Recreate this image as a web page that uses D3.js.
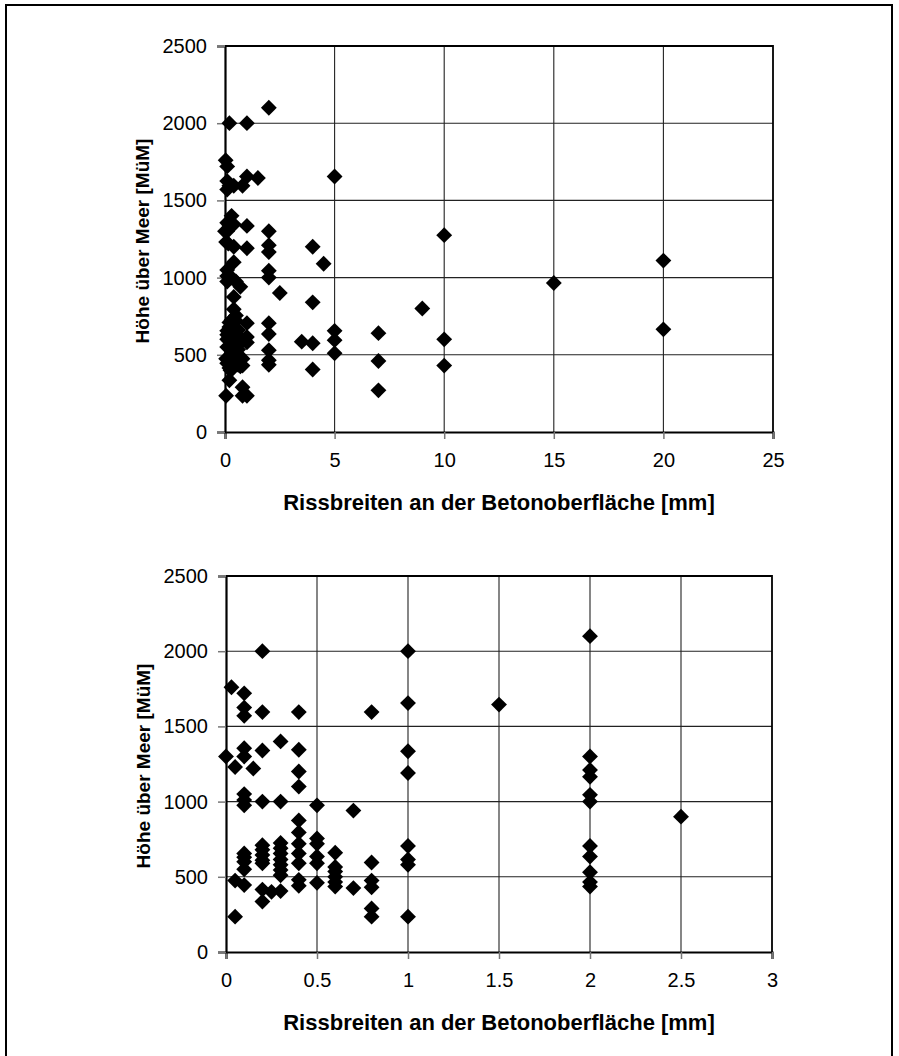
<!DOCTYPE html>
<html>
<head>
<meta charset="utf-8">
<script src="https://cdn.jsdelivr.net/npm/d3@7"></script>
<style>
  html, body { margin: 0; padding: 0; background: #fff; }
  svg { display: block; }
  text { font-family: "Liberation Sans", Arial, sans-serif; fill: #000; }
</style>
</head>
<body>
<svg id="chart" width="899" height="1056"></svg>
<script>
// Crack widths at the concrete surface [mm] and altitude above sea level [m].
const crackWidth = [
  0, 0.03, 0.05, 0.05, 0.05,
  0.1, 0.1, 0.1, 0.1, 0.1, 0.1, 0.1, 0.1, 0.1, 0.1, 0.1, 0.1, 0.1,
  0.15,
  0.2, 0.2, 0.2, 0.2, 0.2, 0.2, 0.2, 0.2, 0.2, 0.2, 0.2,
  0.25,
  0.3, 0.3, 0.3, 0.3, 0.3, 0.3, 0.3, 0.3, 0.3, 0.3,
  0.4, 0.4, 0.4, 0.4, 0.4, 0.4, 0.4, 0.4, 0.4, 0.4, 0.4,
  0.5, 0.5, 0.5, 0.5, 0.5, 0.5,
  0.6, 0.6, 0.6, 0.6, 0.6, 0.6,
  0.7, 0.7,
  0.8, 0.8, 0.8, 0.8, 0.8, 0.8,
  1, 1, 1, 1, 1, 1, 1, 1,
  1.5,
  2, 2, 2, 2, 2, 2, 2, 2, 2, 2, 2,
  2.5,
  3.5, 4, 4, 4, 4, 4.5,
  5, 5, 5, 5,
  7, 7, 7, 9,
  10, 10, 10, 15, 20, 20
];
const altitude = [
  1300, 1760, 1230, 475, 235,
  1720, 1625, 1570, 1355, 1300, 1050, 1010, 975, 655, 630, 600, 550, 445,
  1220,
  2000, 1595, 1340, 1000, 710, 680, 645, 610, 590, 415, 335,
  400,
  1400, 1000, 725, 690, 655, 615, 580, 545, 510, 405,
  1595, 1345, 1200, 1100, 875, 795, 720, 655, 590, 480, 440,
  975, 755, 720, 635, 590, 460,
  660, 565, 535, 500, 465, 435,
  940, 425,
  1595, 595, 475, 430, 290, 235,
  2000, 1655, 1335, 1190, 705, 615, 580, 235,
  1645,
  2100, 1300, 1210, 1165, 1045, 1000, 705, 635, 530, 465, 435,
  900,
  585, 1200, 840, 575, 405, 1090,
  1655, 655, 595, 510,
  640, 460, 270, 800,
  1275, 600, 430, 965, 1110, 665
];

const yTicks = [0, 500, 1000, 1500, 2000, 2500];
const xTicksWide = [0, 5, 10, 15, 20, 25];
const xTicksNarrow = [0, 0.5, 1, 1.5, 2, 2.5, 3];

const xTitle = "Rissbreiten an der Betonoberfläche [mm]";
const yTitle = "Höhe über Meer [MüM]";

const points = crackWidth.map((x, i) => ({ x, y: altitude[i] }));

const svg = d3.select("#chart");

// outer frame
svg.append("path")
  .attr("d", "M6,1070 V5 H892 V1070")
  .attr("fill", "none")
  .attr("stroke", "#000")
  .attr("stroke-width", 2);

function drawPanel(cfg) {
  const x = d3.scaleLinear().domain(cfg.xDomain).range([cfg.left, cfg.right]);
  const y = d3.scaleLinear().domain([0, 2500]).range([cfg.bottom, cfg.top]);
  const g = svg.append("g");

  // grid lines
  g.append("g").selectAll("line.v")
    .data(cfg.xTicks.slice(1, -1))
    .join("line")
    .attr("x1", d => x(d)).attr("x2", d => x(d))
    .attr("y1", cfg.top).attr("y2", cfg.bottom)
    .attr("stroke", "#222").attr("stroke-width", 1.1);
  g.append("g").selectAll("line.h")
    .data(yTicks.slice(1, -1))
    .join("line")
    .attr("x1", cfg.left).attr("x2", cfg.right)
    .attr("y1", d => y(d)).attr("y2", d => y(d))
    .attr("stroke", "#222").attr("stroke-width", 1.1);

  // plot border (top / right)
  g.append("path")
    .attr("d", `M${cfg.left},${cfg.top} H${cfg.right} V${cfg.bottom}`)
    .attr("fill", "none").attr("stroke", "#000").attr("stroke-width", 1.8);

  // axes
  const xAxis = d3.axisBottom(x).tickValues(cfg.xTicks)
    .tickFormat(d3.format("~g")).tickSize(7).tickPadding(14);
  const yAxis = d3.axisLeft(y).tickValues(yTicks)
    .tickFormat(d3.format("d")).tickSize(8).tickPadding(10);

  const gx = g.append("g").attr("transform", `translate(0,${cfg.bottom})`).call(xAxis);
  const gy = g.append("g").attr("transform", `translate(${cfg.left},0)`).call(yAxis);
  [gx, gy].forEach(a => {
    a.select(".domain").attr("stroke", "#000").attr("stroke-width", 2.2);
    a.selectAll(".tick line").attr("stroke", "#777").attr("stroke-width", 1.5);
    a.selectAll(".tick text")
      .attr("font-family", "Liberation Sans, Arial, sans-serif")
      .attr("font-size", 20).attr("fill", "#000");
  });

  // markers
  const sym = d3.symbol().type(d3.symbolDiamond2).size(160);
  g.append("g").selectAll("path")
    .data(points.filter(p => p.x <= cfg.xDomain[1]))
    .join("path")
    .attr("transform", p => `translate(${x(p.x)},${y(p.y)})`)
    .attr("d", sym)
    .attr("fill", "#000");

  // titles
  g.append("text")
    .attr("x", (cfg.left + cfg.right) / 2)
    .attr("y", cfg.bottom + 78)
    .attr("text-anchor", "middle")
    .attr("font-size", 22).attr("font-weight", "bold")
    .text(xTitle);
  g.append("text")
    .attr("transform", `translate(${cfg.left - 76},${(cfg.top + cfg.bottom) / 2 + 2}) rotate(-90)`)
    .attr("text-anchor", "middle")
    .attr("font-size", 19).attr("font-weight", "bold")
    .text(yTitle);
}

drawPanel({ xDomain: [0, 25], xTicks: xTicksWide, left: 225, right: 773, top: 46, bottom: 432 });
drawPanel({ xDomain: [0, 3], xTicks: xTicksNarrow, left: 226, right: 772, top: 576, bottom: 952 });
</script>
</body>
</html>
